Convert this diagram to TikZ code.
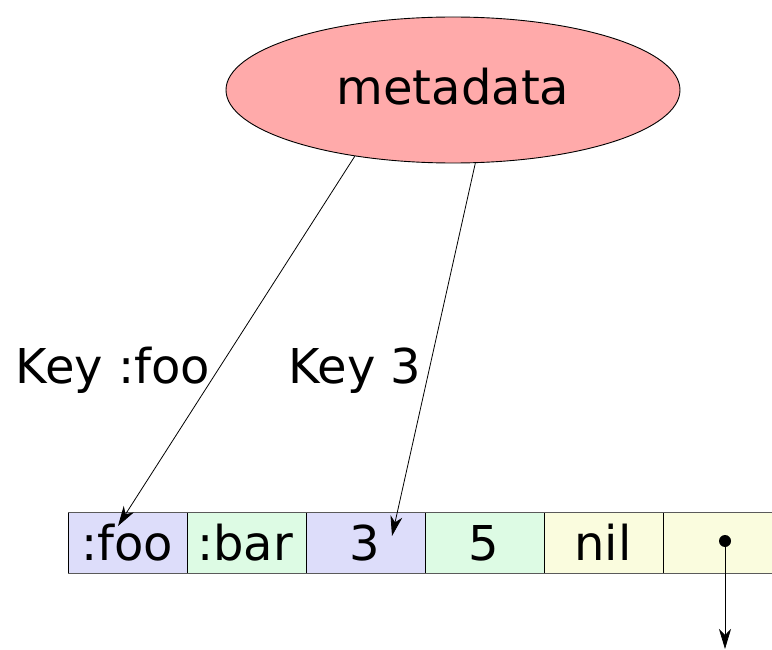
\documentclass[tikz,border=0pt]{standalone}
\usepackage{fontspec}
\setmainfont{DejaVu Sans}
\usetikzlibrary{shapes.geometric,arrows.meta}
\definecolor{cellblue}{RGB}{221,221,250}
\definecolor{cellgreen}{RGB}{221,251,228}
\definecolor{cellyellow}{RGB}{250,252,222}
\definecolor{metapink}{RGB}{255,170,170}
\definecolor{edgegray}{RGB}{90,90,90}
\tikzset{
  px/.style={x=1pt,y=-1pt},
  cellbox/.style={draw=black,line width=0.9pt,minimum width=119pt,minimum height=61pt,
    inner sep=0pt,outer sep=0pt},
  celltext/.style={inner sep=0pt,anchor=base,font=\fontsize{48}{56}\selectfont},
  keylabel/.style={inner sep=0pt,anchor=base,font=\fontsize{48}{56}\selectfont},
  link/.style={draw=black,line width=0.8pt,
    -{Stealth[length=20pt,width=12pt,inset=6pt]}}
}
\begin{document}
\begin{tikzpicture}[px]
  \useasboundingbox (0,0) rectangle (772,650);

  % metadata ellipse
  \node[ellipse,draw=black,fill=metapink,line width=0.9pt,
        minimum width=454pt,minimum height=146pt,inner sep=0pt] (meta) at (453,90) {};
  \node[inner sep=0pt,anchor=base,font=\fontsize{48}{58}\selectfont] (metatxt) at (453,105) {metadata};

  % array cells
  \node[cellbox,fill=cellblue]   (c1) at (127.5,542.5) {};
  \node[cellbox,fill=cellgreen]  (c2) at (246.5,542.5) {};
  \node[cellbox,fill=cellblue]   (c3) at (365.5,542.5) {};
  \node[cellbox,fill=cellgreen]  (c4) at (484.5,542.5) {};
  \node[cellbox,fill=cellyellow] (c5) at (603.5,542.5) {};
  \node[cellbox,fill=cellyellow] (c6) at (722.5,542.5) {};
  % darker top and bottom rules of the array
  \draw[edgegray,line width=1pt] (c1.north west) -- (c6.north east);
  \draw[edgegray,line width=1pt] (c1.south west) -- (c6.south east);

  \node[celltext] (t1) at (127,560) {:foo};
  \node[celltext] (t2) at (245,560) {:bar};
  \node[celltext] (t3) at (365,560) {3};
  \node[celltext] (t4) at (484,560) {5};
  \node[celltext] (t5) at (603,560) {nil};

  % key links
  \coordinate (k1) at (118,526);
  \coordinate (k3) at (392,536);
  \draw[link] (meta.214) -- (k1);
  \draw[link] (meta.287.5) -- (k3);
  \node[keylabel] (l1) at (113,383) {Key :foo};
  \node[keylabel] (l3) at (355,383) {Key 3};

  % next pointer
  \node[circle,fill=black,inner sep=0pt,minimum size=12pt] (dot) at (725,541) {};
  \coordinate (nxt) at (725,649);
  \draw[link] (dot.center) -- (nxt);
\end{tikzpicture}
\end{document}
